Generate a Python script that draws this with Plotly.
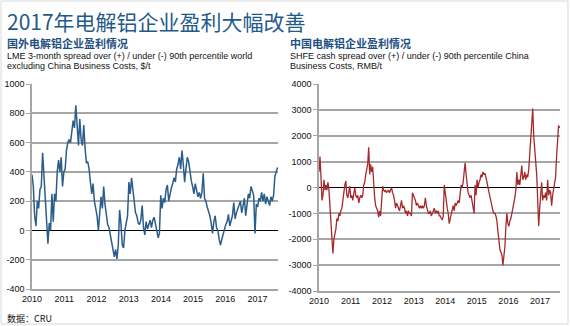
import numpy as np
import pandas as pd
import plotly.graph_objects as go

# ---------------- data ----------------
lme_spread = [380, 300, 100, 30, 200, 150, 280, 300, 530, 350, 200, 50, -90, 50, 0, 250, 60, 250, 200, 400,
              480, 400, 500, 300, 400, 420, 550, 600, 620, 600, 700, 750, 700, 855, 720, 580, 760, 620, 580, 720,
              560, 460, 470, 420, 330, 250, 320, 200, 150, 100, 0, 100, 230, 150, 300, 180, 110, 40, 20, -30,
              -100, -150, -180, -130, -195, -100, 140, 50, -100, -120, 0, 50, 100, 330, 250, 360, 280, 180, 120, 100,
              50, 40, 70, 170, 20, -30, 60, 10, 40, 70, 20, 70, 90, 30, 0, -50, -20, 240, 150, 220,
              190, 280, 310, 200, 250, 290, 320, 360, 330, 420, 450, 500, 420, 545, 450, 330, 420, 500, 470, 380,
              340, 300, 250, 320, 260, 230, 260, 220, 260, 390, 220, 200, 160, 130, 100, 50, -20, 60, 100, 20,
              0, -60, -100, -60, -20, 20, 40, 60, 110, 30, 60, 100, 190, 80, 120, 150, 170, 200, 120, 180,
              220, 100, 170, 250, 220, 300, 270, 240, -20, 180, 160, 220, 200, 260, 200, 250, 180, 230, 200, 170,
              230, 200, 240, 370, 400, 430]

shfe_spread = [600, 1200, 400, -500, -300, 300, -100, 100, -100, 200, -100, -700, -1200, -1500, -2550, -2000,
               -1800, -1600, -1200, -1300, -1000, -1100, -900, -800, -500, -100, 100, 250, -300, -400, -200, 50,
               -400, -300, -500, -300, 0, -300, -400, -300, -600, -400, -300, -400, -300, 100, 200, 500,
               700, 900, 1550, 500, 900, 600, 800, 0, -400, -700, -800, -900, -1150, -900, -1100, -300,
               50, -100, -150, -100, -200, -150, -100, -200, -100, 0, -200, -300, -500, -800, -600, -700,
               -800, -900, -700, -500, -800, -700, -800, -1000, -900, -1100, -900, -1000, -1000, -1100, -200, -300,
               -400, -500, -700, -600, -700, -800, -700, -800, -700, -800, -700, -400, -700, -900, -1000, -1000,
               -900, -1100, -1000, -900, -800, -1000, -900, -1000, -900, -1100, -1100, -1200, -1250, -1100, 100, -200,
               -600, -800, -1000, -1400, -1200, -1000, -800, -700, -900, -600, -700, -600, -500, -600, -300, 100,
               0, 200, 600, 950, 500, 100, -200, -300, -400, -300, -500, -700, -1000, 100, -300, 300,
               0, 200, 300, 500, 400, 600, 500, 550, 300, 200, 0, -200, -400, -600, -800, -900,
               -1000, -1000, -1100, -1300, -1700, -2200, -2400, -2500, -2600, -3000, -2700, -2300, -1500, -1000, -1400, -1500,
               -1300, -1200, -1000, -800, -700, -400, -100, 600, 100, 300, 100, 500, 850, 300, 400, 600,
               300, 500, 400, 700, 1200, 1800, 2300, 3050, 2000, 1300, 1000, 500, -500, -1500, -800, -400,
               200, -500, -300, -400, -200, -500, 300, -300, -100, -200, -700, -300, 0, 300, 400, 1200,
               2000, 2400, 2300]

start_date = pd.Timestamp("2010-01-01")
end_date = pd.Timestamp("2017-08-15")
year_ticks = ["2010", "2011", "2012", "2013", "2014", "2015", "2016", "2017"]
left_yticks = [-400, -200, 0, 200, 400, 600, 800, 1000]
right_yticks = [-4000, -3000, -2000, -1000, 0, 1000, 2000, 3000, 4000]

title_text = "2017年电解铝企业盈利大幅改善"
left_sub = "国外电解铝企业盈利情况"
left_desc = ["LME 3-month spread over (+) / under (-) 90th percentile world",
             "excluding China Business Costs, $/t"]
right_sub = "中国电解铝企业盈利情况"
right_desc = ["SHFE cash spread over (+) / under (-) 90th percentile China",
              "Business Costs, RMB/t"]
source_text = "数据：CRU"


def dates_for(n):
    return pd.to_datetime(np.linspace(start_date.value, end_date.value, n))


W, H = 570, 326
px = lambda x: x / W
py = lambda y: 1 - y / H

fig = go.Figure()
fig.add_trace(go.Scatter(x=dates_for(len(lme_spread)), y=lme_spread, mode="lines",
                         line=dict(color="#2b5d8c", width=1.5), xaxis="x", yaxis="y",
                         showlegend=False))
fig.add_trace(go.Scatter(x=dates_for(len(shfe_spread)), y=shfe_spread, mode="lines",
                         line=dict(color="#a8292c", width=1.3), xaxis="x2", yaxis="y2",
                         showlegend=False))

tickfont = dict(family="Liberation Sans, Arial", size=9, color="#111111")
xr = [start_date, pd.Timestamp("2017-08-20")]

common_x = dict(type="date", range=xr, tickvals=[pd.Timestamp(y + "-01-01") for y in year_ticks],
                ticktext=year_ticks, showgrid=False, zeroline=False, showline=True,
                linecolor="#a6a6a6", linewidth=1.5, ticks="", tickfont=tickfont, fixedrange=True,
                automargin=False)
common_y = dict(showgrid=True, gridcolor="#a6a6a6", gridwidth=1.5, zeroline=True,
                zerolinecolor="#000000", zerolinewidth=1.2, showline=True, linecolor="#a6a6a6",
                linewidth=1.5, ticks="outside", ticklen=4, tickcolor="#a6a6a6", tickfont=tickfont,
                automargin=False)

fig.update_layout(
    width=W, height=H, margin=dict(l=0, r=0, t=0, b=0, autoexpand=False),
    paper_bgcolor="white", plot_bgcolor="white",
    xaxis=dict(domain=[px(32), px(278)], anchor="y", **common_x),
    yaxis=dict(domain=[py(289), py(84)], anchor="x", range=[-400, 1000],
               tickvals=left_yticks, ticktext=[str(v) for v in left_yticks], **common_y),
    xaxis2=dict(domain=[px(319), px(560)], anchor="y2", **common_x),
    yaxis2=dict(domain=[py(291), py(84)], anchor="x2", range=[-4000, 4000],
                tickvals=right_yticks, ticktext=[str(v) for v in right_yticks], **common_y),
)

ann = []
ann.append(dict(text=title_text, x=px(5), y=py(21), xref="paper", yref="paper", xanchor="left",
                yanchor="middle", showarrow=False,
                font=dict(family="Noto Sans CJK SC", size=21, color="#1f5a8a")))
for sub, desc, x0 in [(left_sub, left_desc, 5), (right_sub, right_desc, 288)]:
    ann.append(dict(text="<b>" + sub + "</b>", x=px(x0), y=py(43), xref="paper", yref="paper",
                    xanchor="left", yanchor="middle", showarrow=False,
                    font=dict(family="Noto Sans CJK SC", size=11, color="#1f4f82")))
    for i, line in enumerate(desc):
        ann.append(dict(text=line, x=px(x0), y=py(56 + 10 * i), xref="paper", yref="paper",
                        xanchor="left", yanchor="middle", showarrow=False,
                        font=dict(family="Liberation Sans, Arial", size=9, color="#111111")))
ann.append(dict(text=source_text, x=px(5), y=py(318), xref="paper", yref="paper", xanchor="left",
                yanchor="middle", showarrow=False,
                font=dict(family="Noto Sans CJK SC", size=9, color="#111111")))
fig.update_layout(annotations=ann)

fig.add_shape(type="rect", xref="paper", yref="paper", x0=px(1), x1=px(568), y0=py(324), y1=py(1),
              line=dict(color="#d9d9d9", width=1))

fig.write_html("out.html")
